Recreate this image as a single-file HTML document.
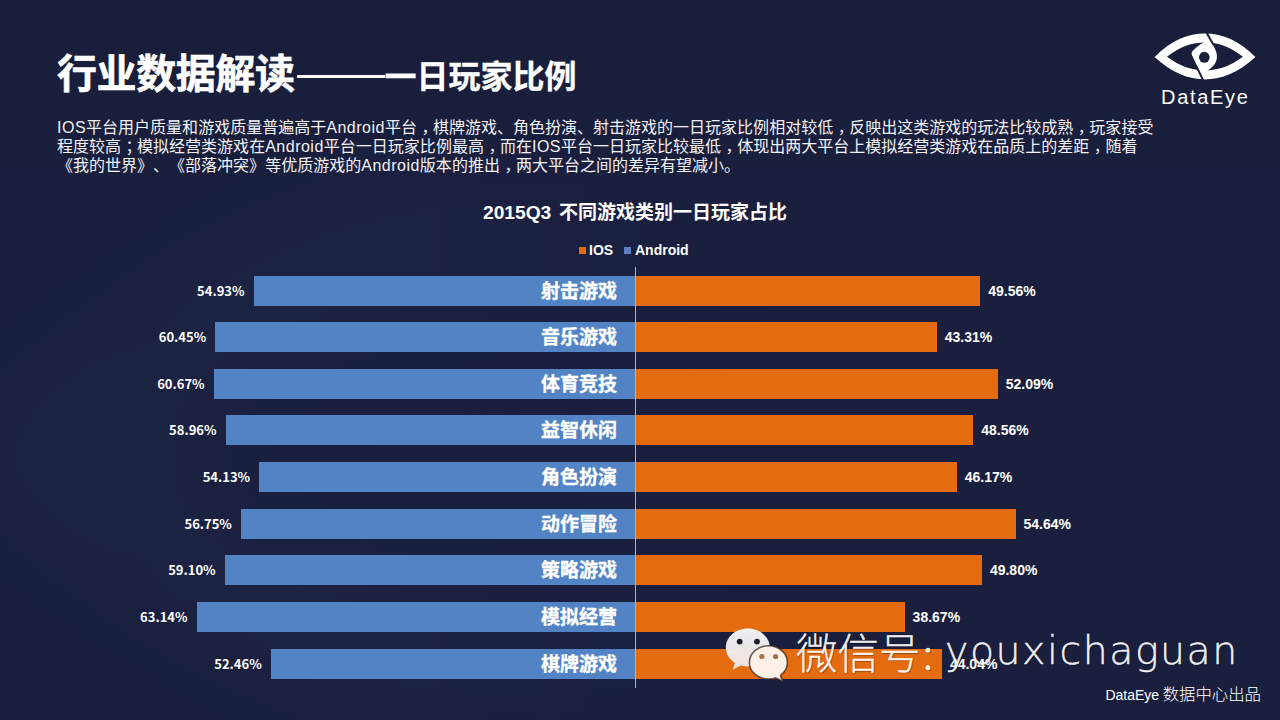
<!DOCTYPE html>
<html lang="zh-CN">
<head>
<meta charset="utf-8">
<title>行业数据解读——一日玩家比例</title>
<style>
  html, body { margin: 0; padding: 0; }
  body {
    width: 1280px; height: 720px; overflow: hidden; position: relative;
    background: #1a1f3d;
    font-family: "Liberation Sans", "Noto Sans CJK SC", sans-serif;
    color: #fff;
  }
  .bg {
    position: absolute; left: 0; top: 0; width: 1280px; height: 720px;
    background: linear-gradient(180deg, #181e3a 0%, #1a1f3d 30%, #1a1f3d 100%);
  }
  .abs { position: absolute; white-space: nowrap; }
  h1.title {
    margin: 0; left: 57px; top: 46px; font-size: 40px; line-height: 56px; font-weight: bold;
    font-family: "Liberation Sans", "Noto Sans CJK SC", sans-serif; letter-spacing: -0.4px; -webkit-text-stroke: 0.6px #fff;
  }
  h1.title .sub { font-size: 32px; letter-spacing: 0; -webkit-text-stroke: 0.3px #fff; }
  h1.title .dash {
    display: inline-block; width: 88px; height: 3px; background: #fff; vertical-align: middle;
    position: relative; top: -1px; margin-left: 2px;
  }
  p.desc {
    margin: 0; left: 57px; top: 117.5px; width: 1150px; letter-spacing: 0.01px; white-space: normal;
    font-size: 16px; line-height: 19px; color: #f2f2f6; text-spacing-trim: space-all;
  }
  p.desc .cm { position: relative; left: 0.28em; }
  p.desc .en { letter-spacing: 0.5px; }
  .ctitle { left: 483px; top: 200px; font-size: 19px; line-height: 26px; font-weight: bold; word-spacing: 2.5px; }
  .ctitle .n { font-size: 19.2px; }
  .legend { top: 241px; font-size: 14px; line-height: 18px; font-weight: bold; }
  .sq { position: absolute; width: 7px; height: 7px; }
  .axis { position: absolute; left: 635px; top: 267px; width: 1px; height: 421px; background: #aeb2c6; }
  .bar { position: absolute; height: 30px; }
  .and { background: #5283c4; }
  .ios { background: #e46c0e; }
  .cat { right: 663px; font-size: 19px; line-height: 30px; margin-top: 1px; -webkit-text-stroke: 0.35px #fff; font-weight: bold; text-align: right;
         font-family: "Liberation Sans", "Noto Sans CJK SC", sans-serif; }
  .lv { font-size: 13px; line-height: 30px; font-weight: bold; text-align: right;
        font-family: "Noto Sans CJK SC", "Liberation Sans", sans-serif; }
  .rv { font-size: 14px; line-height: 30px; font-weight: bold; }
  .foot { right: 19px; top: 682px; font-size: 16.4px; line-height: 22px; color: #fff; word-spacing: -1px; }
  .foot .n { font-size: 14px; }
  .foot .c { font-weight: 300; font-family: "Noto Sans CJK SC", sans-serif; }
  .wm { font-size: 41.5px; line-height: 60px; font-weight: 300; color: rgba(255,255,255,0.92);
        font-family: "Noto Sans CJK SC", sans-serif; text-shadow: 1px 1px 1px rgba(0,0,0,0.3); -webkit-text-stroke: 0.3px rgba(255,255,255,0.9); }
  .wm .colon { display: inline-block; width: 15px; text-align: center; }
  .wm.en { font-family: "DejaVu Sans Light", "DejaVu Sans", sans-serif; font-weight: 200; font-size: 39.5px; letter-spacing: 1.5px; -webkit-text-stroke: 0.45px rgba(255,255,255,0.9); }
</style>
</head>
<body>
<div class="bg"></div>
<svg class="abs" style="left:0;top:0" width="1280" height="720" viewBox="0 0 1280 720">
  <defs>
    <filter id="bl" x="-10%" y="-10%" width="120%" height="120%"><feGaussianBlur stdDeviation="6"/></filter>
    <linearGradient id="fade" x1="0" y1="0" x2="1280" y2="0" gradientUnits="userSpaceOnUse"><stop offset="0" stop-color="#fff"/><stop offset="0.3" stop-color="#fff"/><stop offset="0.62" stop-color="#000"/><stop offset="1" stop-color="#000"/></linearGradient>
    <mask id="fm" maskUnits="userSpaceOnUse" x="0" y="0" width="1280" height="720"><rect x="0" y="0" width="1280" height="720" fill="url(#fade)"/></mask>
  </defs>
  <g mask="url(#fm)"><g transform="translate(545 450) scale(11.7) translate(-1205 -56.4)" filter="url(#bl)">
    <path fill="#7f8fe6" fill-opacity="0.05" fill-rule="evenodd" d="M1154.6 57 C1172 40 1188 33.6 1205 33.6 C1222 33.6 1238 40 1255.4 57 C1238 73 1222 79.2 1205 79.2 C1188 79.2 1172 73 1154.6 57 Z M1167 56.8 C1180 46.5 1192 42.6 1205 42.6 C1218 42.6 1230 46.5 1242.8 56.8 C1230 66.5 1218 70.4 1205 70.4 C1192 70.4 1180 66.5 1167 56.8 Z"/>
  </g></g>
</svg>

<h1 class="abs title">行业数据解读<span class="dash"></span><span class="sub">一日玩家比例</span></h1>

<p class="abs desc"><span class="en">IOS</span>平台用户质量和游戏质量普遍高于<span class="en">Android</span>平台<span class="cm">，</span>棋牌游戏、角色扮演、射击游戏的一日玩家比例相对较低<span class="cm">，</span>反映出这类游戏的玩法比较成熟<span class="cm">，</span>玩家接受<br>程度较高<span class="cm">；</span>模拟经营类游戏在<span class="en">Android</span>平台一日玩家比例最高<span class="cm">，</span>而在<span class="en">IOS</span>平台一日玩家比较最低<span class="cm">，</span>体现出两大平台上模拟经营类游戏在品质上的差距<span class="cm">，</span>随着<br>《我的世界》、《部落冲突》等优质游戏的<span class="en">Android</span>版本的推出<span class="cm">，</span>两大平台之间的差异有望减小。</p>

<!-- logo -->
<svg class="abs" style="left:1150px;top:28px" width="112" height="84" viewBox="1150 28 112 84">
  <path fill="#fff" fill-rule="evenodd" d="M1154.6 57 C1172 40 1188 33.6 1205 33.6 C1222 33.6 1238 40 1255.4 57 C1238 73 1222 79.2 1205 79.2 C1188 79.2 1172 73 1154.6 57 Z M1167 56.8 C1180 46.5 1192 42.6 1205 42.6 C1218 42.6 1230 46.5 1242.8 56.8 C1230 66.5 1218 70.4 1205 70.4 C1192 70.4 1180 66.5 1167 56.8 Z"/>
  <path fill="#fff" d="M1203.6 79.2 L1192.1 55.6 Q1190.8 52.8 1193 50.6 C1196 47.2 1200 44.2 1204 42.2 L1204 33.8 L1206 33.8 L1212.8 44.8 C1216 50 1217.3 54 1216.9 58 C1216.4 63 1212.5 68 1207 70.8 L1207 79.2 Z"/>
  <ellipse cx="1204.3" cy="57.3" rx="5.3" ry="5.5" fill="#191e3b"/>
  <line x1="1206.4" y1="32.6" x2="1213.6" y2="44.9" stroke="#191e3b" stroke-width="2"/>
  <line x1="1197" y1="67.6" x2="1203.3" y2="80.4" stroke="#191e3b" stroke-width="2"/>
  <text x="1161" y="103.8" font-family="Liberation Sans, sans-serif" font-size="20" letter-spacing="1.7" fill="#fff">DataEye</text>
</svg>

<div class="abs ctitle"><span class="n">2015Q3</span> 不同游戏类别一日玩家占比</div>

<div class="sq" style="left:579px;top:247px;background:#e46c0e"></div>
<div class="abs legend" style="left:589px">IOS</div>
<div class="sq" style="left:624px;top:247px;background:#5b7fc0"></div>
<div class="abs legend" style="left:635px">Android</div>

<div class="axis"></div>
<div class="bar and" style="left:253.5px;top:276px;width:381.5px"></div>
<div class="bar ios" style="left:636.0px;top:276px;width:344.2px"></div>
<div class="abs cat" style="top:276px">射击游戏</div>
<div class="abs lv" style="right:1035.5px;top:276px">54.93%</div>
<div class="abs rv" style="left:988.2px;top:276px">49.56%</div>
<div class="bar and" style="left:215.2px;top:322px;width:419.8px"></div>
<div class="bar ios" style="left:636.0px;top:322px;width:300.8px"></div>
<div class="abs cat" style="top:322px">音乐游戏</div>
<div class="abs lv" style="right:1073.8px;top:322px">60.45%</div>
<div class="abs rv" style="left:944.8px;top:322px">43.31%</div>
<div class="bar and" style="left:213.6px;top:369px;width:421.4px"></div>
<div class="bar ios" style="left:636.0px;top:369px;width:361.8px"></div>
<div class="abs cat" style="top:369px">体育竞技</div>
<div class="abs lv" style="right:1075.4px;top:369px">60.67%</div>
<div class="abs rv" style="left:1005.8px;top:369px">52.09%</div>
<div class="bar and" style="left:225.5px;top:415px;width:409.5px"></div>
<div class="bar ios" style="left:636.0px;top:415px;width:337.2px"></div>
<div class="abs cat" style="top:415px">益智休闲</div>
<div class="abs lv" style="right:1063.5px;top:415px">58.96%</div>
<div class="abs rv" style="left:981.2px;top:415px">48.56%</div>
<div class="bar and" style="left:259.1px;top:462px;width:375.9px"></div>
<div class="bar ios" style="left:636.0px;top:462px;width:320.7px"></div>
<div class="abs cat" style="top:462px">角色扮演</div>
<div class="abs lv" style="right:1029.9px;top:462px">54.13%</div>
<div class="abs rv" style="left:964.7px;top:462px">46.17%</div>
<div class="bar and" style="left:240.9px;top:509px;width:394.1px"></div>
<div class="bar ios" style="left:636.0px;top:509px;width:379.5px"></div>
<div class="abs cat" style="top:509px">动作冒险</div>
<div class="abs lv" style="right:1048.1px;top:509px">56.75%</div>
<div class="abs rv" style="left:1023.5px;top:509px">54.64%</div>
<div class="bar and" style="left:224.6px;top:555px;width:410.4px"></div>
<div class="bar ios" style="left:636.0px;top:555px;width:345.9px"></div>
<div class="abs cat" style="top:555px">策略游戏</div>
<div class="abs lv" style="right:1064.4px;top:555px">59.10%</div>
<div class="abs rv" style="left:989.9px;top:555px">49.80%</div>
<div class="bar and" style="left:196.5px;top:602px;width:438.5px"></div>
<div class="bar ios" style="left:636.0px;top:602px;width:268.6px"></div>
<div class="abs cat" style="top:602px">模拟经营</div>
<div class="abs lv" style="right:1092.5px;top:602px">63.14%</div>
<div class="abs rv" style="left:912.6px;top:602px">38.67%</div>
<div class="bar and" style="left:270.7px;top:649px;width:364.3px"></div>
<div class="bar ios" style="left:636.0px;top:649px;width:305.9px"></div>
<div class="abs cat" style="top:649px">棋牌游戏</div>
<div class="abs lv" style="right:1018.3px;top:649px">52.46%</div>
<div class="abs rv" style="left:949.9px;top:649px">44.04%</div>

<div class="abs foot"><span class="n">DataEye</span> <span class="c">数据中心出品</span></div>
<!-- wechat watermark -->
<svg class="abs" style="left:720px;top:622px" width="76" height="66" viewBox="720 622 76 66">
  <defs><linearGradient id="wg" x1="0" y1="0" x2="0" y2="1"><stop offset="0" stop-color="#f6f6fa"/><stop offset="1" stop-color="#ece6e4"/></linearGradient></defs>
  <path fill="url(#wg)" fill-opacity="0.96" d="M747.8 628.5 C760 628.5 769.8 637 769.8 647.5 C769.8 658 760 666.5 747.8 666.5 C745.3 666.5 742.9 666.1 740.7 665.5 L732.6 669.8 L734.9 663 C729.4 659.5 725.9 653.9 725.9 647.5 C725.9 637 735.6 628.5 747.8 628.5 Z"/>
  <circle cx="739.7" cy="641.6" r="2.9" fill="#1a1a2a"/>
  <circle cx="757" cy="641.6" r="2.9" fill="#1a1a2a"/>
  <path fill="#fdf1e8" stroke="rgba(60,40,30,0.75)" stroke-width="1.6" d="M768.4 645.7 C778.9 645.7 787.4 653.2 787.4 662.4 C787.4 667.6 784.7 672.2 780.5 675.3 L782.8 681.2 L775.6 677.9 C773.4 678.7 771 679.1 768.4 679.1 C757.9 679.1 749.4 671.6 749.4 662.4 C749.4 653.2 757.9 645.7 768.4 645.7 Z"/>
  <circle cx="761.9" cy="656.5" r="2.6" fill="#a87048"/>
  <circle cx="775.6" cy="656.5" r="2.6" fill="#a87048"/>
</svg>
<div class="abs wm" style="left:796px;top:621px">微信号<span class="colon">:</span></div>
<div class="abs wm en" style="left:945px;top:619.5px">youxichaguan</div>

</body>
</html>
